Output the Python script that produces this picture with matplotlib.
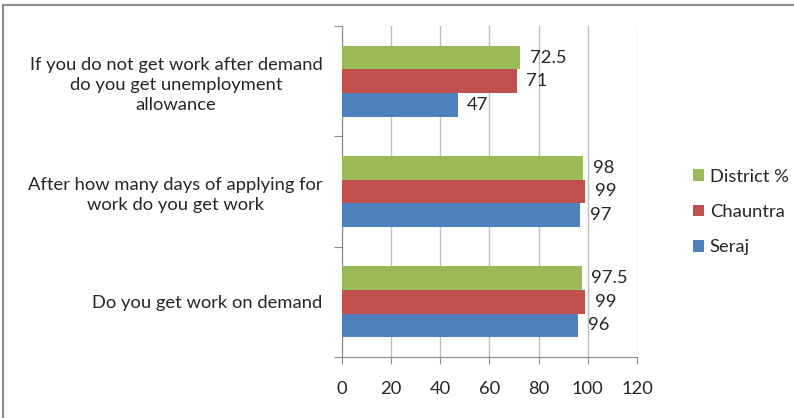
import numpy as np
import matplotlib
matplotlib.use("Agg")
import matplotlib.pyplot as plt
from matplotlib.patches import Rectangle

categories = ["Do you get work on demand",
              "After how many days of applying for\nwork do you get work",
              "If you do not get work after demand\ndo you get unemployment\nallowance"]
seraj = [96, 97, 47]
chauntra = [99, 99, 71]
district = [97.5, 98, 72.5]
series_names = ["Seraj", "Chauntra", "District %"]
colors = ["#4F81BD", "#C0504D", "#9BBB59"]
x_ticks = [0, 20, 40, 60, 80, 100, 120]

plt.rcParams['font.family'] = ['Lato', 'DejaVu Sans']
fs = 13.2

fig = plt.figure(figsize=(7.94, 4.18), dpi=100)
# outer chart frame
fig.patches.append(Rectangle((3 / 794, -0.1), 1.1, 1 - 5 / 418 + 0.1, transform=fig.transFigure,
                             fill=False, edgecolor="#8C8C8C", linewidth=1.5))
ax = fig.add_axes([342 / 794, 1 - 357 / 418, 295 / 794, 331 / 418])

y = np.arange(len(categories))
h = 0.214
for i, (vals, name, col) in enumerate(zip([seraj, chauntra, district], series_names, colors)):
    pos = y + (i - 1) * h
    ax.barh(pos, vals, height=h, color=col, label=name, zorder=3)
    for p, v in zip(pos, vals):
        ax.annotate(f"{v:g}", (v, p), xytext=(7, 0), textcoords="offset points",
                    va="center", ha="left", fontsize=fs, color="#262626")

ax.set_xlim(0, 120)
ax.set_ylim(-0.5, 2.5)
ax.set_xticks(x_ticks)
ax.set_xticklabels([str(t) for t in x_ticks], fontsize=fs, color="#262626")
ax.tick_params(axis="x", direction="out", length=5, color="#8C8C8C", pad=12)
ax.xaxis.grid(True, color="#BDBDBD", linewidth=1, zorder=0)

ax.set_yticks([-0.5, 0.5, 1.5, 2.5])
ax.set_yticklabels([])
ax.tick_params(axis="y", which="major", direction="out", length=6, color="#8C8C8C")
ax.set_yticks(y, minor=True)
ax.set_yticklabels(categories, minor=True, fontsize=fs, color="#262626",
                   ha="right", multialignment="center", linespacing=1.3)
ax.tick_params(axis="y", which="minor", length=0, pad=14)

for s in ["top", "right"]:
    ax.spines[s].set_visible(False)
for s in ["left", "bottom"]:
    ax.spines[s].set_color("#8C8C8C")

handles, labels = ax.get_legend_handles_labels()
fig.legend(handles[::-1], labels[::-1], loc="center left", bbox_to_anchor=(676 / 794, 1 - 212 / 418),
           frameon=False, fontsize=fs, handlelength=0.6, handleheight=0.6,
           handletextpad=0.35, labelspacing=1.05, labelcolor="#262626")

fig.savefig("out.png", dpi=100)
